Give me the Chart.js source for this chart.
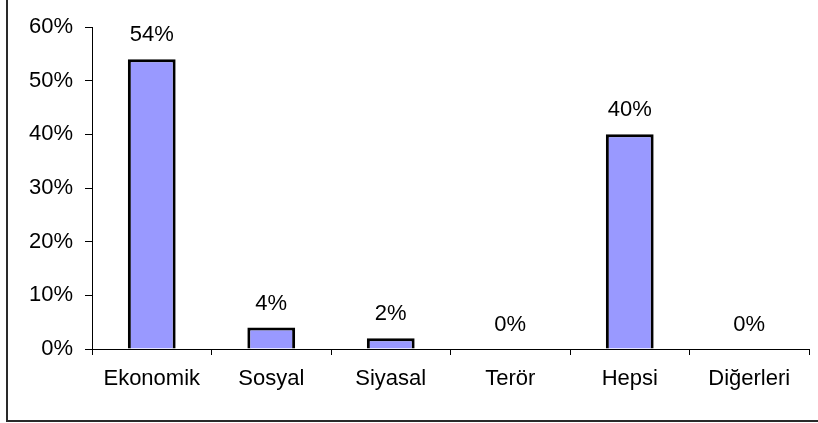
<!DOCTYPE html>
<html>
<head>
<meta charset="utf-8">
<script src="https://cdn.jsdelivr.net/npm/chart.js@4/dist/chart.umd.min.js"></script>
<style>
  body { margin: 0; background: #fff; }
  canvas { display: block; }
</style>
</head>
<body>
<canvas id="chart" width="818" height="423"></canvas>
<script>
var categories = ["Ekonomik", "Sosyal", "Siyasal", "Terör", "Hepsi", "Diğerleri"];
var values = [54, 4, 2, 0, 40, 0];
var yMax = 60;
var yStep = 10;

var FONT = "'Liberation Sans', Arial, sans-serif";

// frame around the chart (only left + bottom edges are inside the picture)
var framePlugin = {
    id: 'frame',
    beforeDraw: function (chart) {
        var ctx = chart.ctx;
        ctx.save();
        ctx.fillStyle = '#ffffff';
        ctx.fillRect(0, 0, chart.width, chart.height);
        ctx.strokeStyle = '#2a2a2a';
        ctx.lineWidth = 2;
        ctx.beginPath();
        ctx.moveTo(7, 0);
        ctx.lineTo(7, 421);
        ctx.lineTo(chart.width, 421);
        ctx.stroke();
        ctx.restore();
    }
};

// value labels above each bar
var labelPlugin = {
    id: 'valueLabels',
    afterDatasetsDraw: function (chart) {
        var ctx = chart.ctx;
        var meta = chart.getDatasetMeta(0);
        ctx.save();
        ctx.font = '22px ' + FONT;
        ctx.fillStyle = '#000';
        ctx.textAlign = 'center';
        ctx.textBaseline = 'alphabetic';
        meta.data.forEach(function (bar, i) {
            ctx.fillText(values[i] + '%', bar.x, bar.y - 18);
        });
        ctx.restore();
    }
};

var ctx = document.getElementById('chart').getContext('2d');
var myChart = new Chart(ctx, {
    type: 'bar',
    data: {
        labels: categories,
        datasets: [{
            data: values,
            backgroundColor: '#9999ff',
            borderColor: '#000000',
            borderWidth: 3,
            borderSkipped: 'bottom',
            categoryPercentage: 1.0,
            barPercentage: 0.4
        }]
    },
    options: {
        responsive: false,
        animation: false,
        layout: { padding: { top: 27, right: 9, left: 0, bottom: 0 } },
        plugins: {
            legend: { display: false },
            tooltip: { enabled: false }
        },
        scales: {
            x: {
                grid: {
                    drawOnChartArea: false,
                    drawTicks: true,
                    tickLength: 6,
                    color: '#000'
                },
                border: { color: '#000', width: 1 },
                ticks: {
                    color: '#000',
                    font: { family: FONT, size: 22 },
                    padding: 11,
                    maxRotation: 0
                },
                afterFit: function (scale) { scale.height = 74; }
            },
            y: {
                min: 0,
                max: yMax,
                grid: {
                    drawOnChartArea: false,
                    drawTicks: true,
                    tickLength: 7,
                    color: '#000'
                },
                border: { color: '#000', width: 1 },
                ticks: {
                    stepSize: yStep,
                    color: '#000',
                    font: { family: FONT, size: 22 },
                    padding: 12,
                    callback: function (v) { return v + '%'; }
                },
                afterFit: function (scale) { scale.width = 92; }
            }
        }
    },
    plugins: [framePlugin, labelPlugin]
});
</script>
</body>
</html>
